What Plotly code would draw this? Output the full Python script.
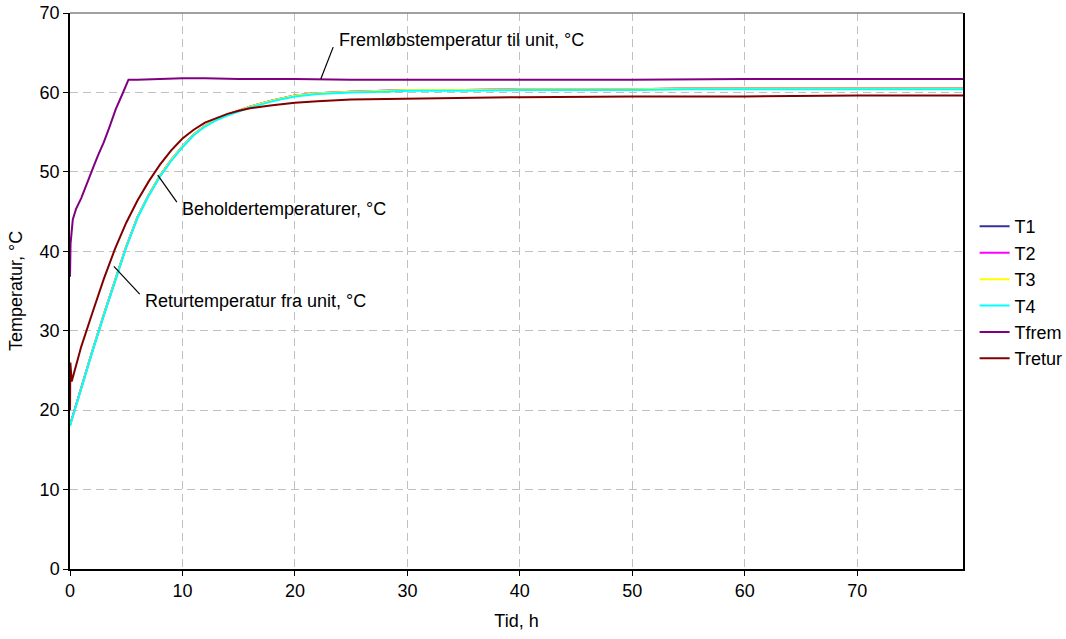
import plotly.graph_objects as go

# ---- data ----
t_T = [0, 0.5, 1, 2, 3, 4, 5, 6, 7, 8, 9, 10, 11, 12, 13, 14, 15, 16, 17, 18, 19, 20,
       22, 25, 28, 30, 35, 40, 45, 50, 55, 60, 65, 70, 75, 79.4]
T1 = [18.1, 20.5, 22.8, 27.5, 32.0, 36.4, 40.6, 44.3, 47.1, 49.5, 51.5, 53.2, 54.7, 55.8,
      56.6, 57.2, 57.7, 58.2, 58.6, 59.0, 59.3, 59.6, 59.9, 60.1, 60.2, 60.3, 60.3, 60.4,
      60.4, 60.4, 60.5, 60.5, 60.5, 60.5, 60.5, 60.5]
T2 = [18.1, 20.5, 22.8, 27.5, 32.0, 36.4, 40.6, 44.3, 47.1, 49.5, 51.5, 53.2, 54.7, 55.8,
      56.6, 57.2, 57.7, 58.2, 58.6, 59.0, 59.3, 59.6, 59.9, 60.1, 60.2, 60.3, 60.3, 60.4,
      60.4, 60.4, 60.5, 60.5, 60.5, 60.5, 60.5, 60.5]
T3 = [18.0, 20.4, 22.8, 27.5, 32.0, 36.4, 40.6, 44.3, 47.1, 49.5, 51.5, 53.2, 54.7, 55.8,
      56.6, 57.2, 57.7, 58.2, 58.6, 59.0, 59.3, 59.6, 59.9, 60.1, 60.2, 60.3, 60.3, 60.4,
      60.4, 60.4, 60.5, 60.5, 60.5, 60.5, 60.5, 60.5]
T4 = [18.0, 20.4, 22.7, 27.4, 31.9, 36.3, 40.5, 44.2, 47.0, 49.4, 51.4, 53.1, 54.6, 55.7,
      56.5, 57.1, 57.6, 58.1, 58.5, 58.9, 59.2, 59.5, 59.8, 60.0, 60.1, 60.2, 60.2, 60.3,
      60.3, 60.3, 60.4, 60.4, 60.4, 60.4, 60.4, 60.4]

t_frem = [0, 0.05, 0.25, 0.53, 1, 1.5, 2.1, 2.5, 3.0, 3.5, 4.07, 4.66, 5.2, 6, 8, 10, 12,
          15, 20, 25, 30, 40, 50, 60, 70, 79.4]
Tfrem = [36.8, 41.0, 44.0, 45.3, 46.7, 48.6, 50.7, 52.1, 53.7, 55.6, 57.9, 59.8, 61.6,
         61.6, 61.7, 61.8, 61.8, 61.7, 61.7, 61.6, 61.6, 61.6, 61.6, 61.7, 61.7, 61.7]

t_retur = [0, 0.03, 0.15, 0.3, 0.5, 1, 2, 3, 4, 5, 6, 7, 8, 9, 10, 11, 12, 13, 14, 15, 16,
           17, 18, 20, 22, 25, 30, 40, 50, 60, 70, 79.4]
Tretur = [20.0, 26.0, 23.6, 24.4, 25.6, 28.0, 32.3, 36.5, 40.3, 43.6, 46.4, 48.8, 50.9,
          52.7, 54.2, 55.3, 56.2, 56.8, 57.3, 57.7, 58.0, 58.2, 58.4, 58.7, 58.9, 59.1,
          59.2, 59.4, 59.5, 59.5, 59.6, 59.6]

x_ticks = [0, 10, 20, 30, 40, 50, 60, 70]
y_ticks = [0, 10, 20, 30, 40, 50, 60, 70]

FONT = "Liberation Sans, Arial, sans-serif"
FS = 18

series = [
    ("T1", t_T, T1, "#333399"),
    ("T2", t_T, T2, "#FF00FF"),
    ("T3", t_T, T3, "#FFFF00"),
    ("T4", t_T, T4, "#00FFFF"),
    ("Tfrem", t_frem, Tfrem, "#800080"),
    ("Tretur", t_retur, Tretur, "#800000"),
]

fig = go.Figure()
for name, x, y, c in series:
    fig.add_trace(go.Scatter(x=x, y=y, mode="lines", name=name,
                             line=dict(color=c, width=2)))

# leader lines for labels
leaders = [
    (23.4, 65.7, 22.3, 61.7),
    (9.5, 46.2, 7.8, 49.6),
    (6.2, 34.6, 3.9, 38.1),
]
for x0, y0, x1, y1 in leaders:
    fig.add_shape(type="line", x0=x0, y0=y0, x1=x1, y1=y1, xref="x", yref="y",
                  line=dict(color="black", width=1.2))

labels = [
    (23.7, 66.6, "Fremløbstemperatur til unit, °C"),
    (9.8, 45.3, "Beholdertemperaturer, °C"),
    (6.5, 33.7, "Returtemperatur fra unit, °C"),
]
for x, y, txt in labels:
    fig.add_annotation(x=x, y=y, text=txt, showarrow=False, xanchor="left",
                       yanchor="middle", font=dict(family=FONT, size=FS, color="black"))

# top border (grey)
fig.add_shape(type="line", xref="paper", yref="paper", x0=0, x1=1, y0=1, y1=1,
              line=dict(color="#808080", width=1.5))

fig.update_layout(
    width=1066, height=639,
    margin=dict(l=70, r=103, t=13, b=70, autoexpand=False),
    paper_bgcolor="white", plot_bgcolor="white",
    font=dict(family=FONT, size=FS, color="black"),
    showlegend=True,
    legend=dict(x=1.013, xref="paper", xanchor="left", y=0.497, yanchor="middle",
                font=dict(family=FONT, size=FS, color="black"),
                bgcolor="rgba(0,0,0,0)"),
    xaxis=dict(range=[0, 79.4], tickvals=x_ticks, ticks="outside", ticklen=5,
               tickcolor="black", showline=True, linecolor="black", linewidth=1.5,
               showgrid=True, gridcolor="#c0c0c0", griddash="8px,5px", gridwidth=1,
               zeroline=False, automargin=False,
               title=dict(text="Tid, h", standoff=14, font=dict(size=FS)),
               tickfont=dict(size=FS)),
    yaxis=dict(range=[0, 70], tickvals=y_ticks, ticks="outside", ticklen=5,
               tickcolor="black", showline=True, linecolor="black", linewidth=1.5,
               mirror=True, automargin=False,
               showgrid=True, gridcolor="#c0c0c0", griddash="8px,5px", gridwidth=1,
               zeroline=False,
               title=dict(text="Temperatur, °C", standoff=12, font=dict(size=FS)),
               tickfont=dict(size=FS)),
)

fig.write_html("out.html", config={"displayModeBar": False},
               post_script="document.body.style.margin='0';")
